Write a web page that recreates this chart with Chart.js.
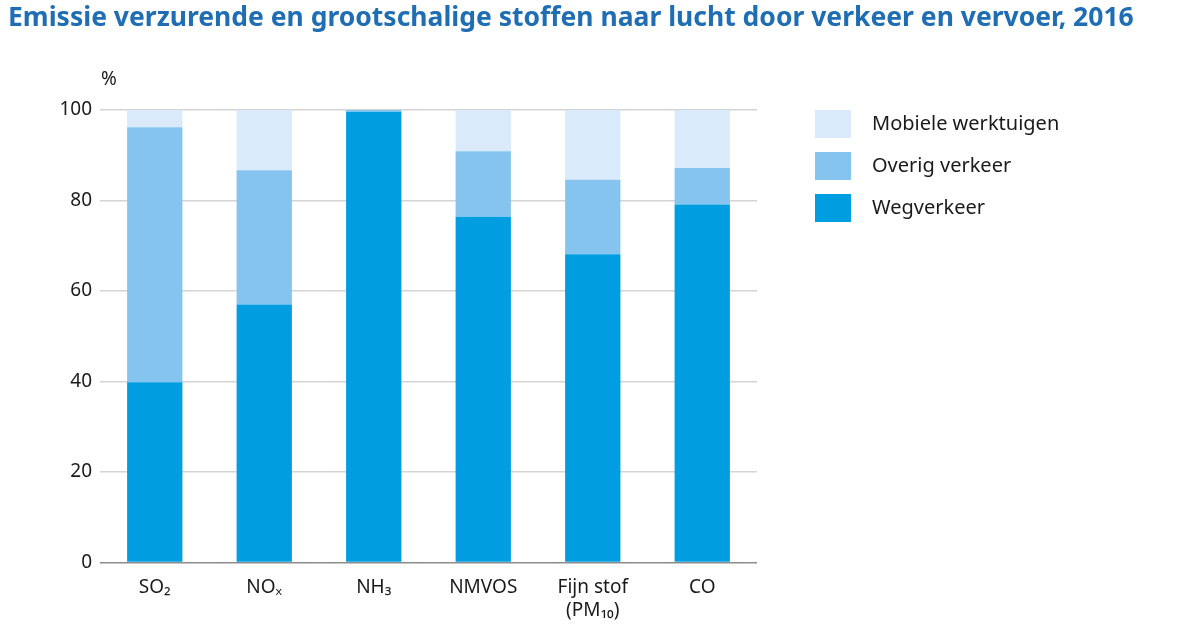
<!DOCTYPE html>
<html>
<head>
<meta charset="utf-8">
<script src="https://cdn.jsdelivr.net/npm/chart.js@4"></script>
<style>
  html, body { margin: 0; padding: 0; background: #fff; }
  #wrap { width: 1200px; height: 630px; }
</style>
</head>
<body>
<div id="wrap"><canvas id="emissieChart" width="1200" height="630"></canvas></div>
<script>
// Categorieën en waarden (procenten)
const stoffen = ["SO₂", "NOₓ", "NH₃", "NMVOS", ["Fijn stof", "(PM₁₀)"], "CO"];
const wegverkeer = [39.8, 57.0, 99.6, 76.4, 68.1, 79.1];
const overigVerkeer = [56.4, 29.7, 0.4, 14.5, 16.5, 8.1];
const mobieleWerktuigen = [3.8, 13.3, 0, 9.1, 15.4, 12.8];
const yTicks = [0, 20, 40, 60, 80, 100];

const titel = "Emissie verzurende en grootschalige stoffen naar lucht door verkeer en vervoer, 2016";
const fontFam = "'Noto Sans', 'Open Sans', sans-serif";

// Titel, legenda en "%" zelf tekenen (titel niet samengeperst door de smalle layout)
const extraTekst = {
    id: "extraTekst",
    afterDraw(chart) {
        const ctx = chart.ctx;
        const area = chart.chartArea;
        ctx.save();
        ctx.textBaseline = "middle";
        ctx.textAlign = "left";

        ctx.fillStyle = "#1f6db3";
        ctx.font = "bold 26.5px " + fontFam;
        ctx.fillText(titel, 8, 18);

        ctx.fillStyle = "#1a1a1a";
        ctx.font = "19px " + fontFam;
        ctx.fillText("%", area.left + 1, area.top - 30);

        ctx.font = "20px " + fontFam;
        const items = chart.data.datasets.slice().reverse();
        items.forEach((ds, i) => {
            const y = 124 + i * 42;
            ctx.fillStyle = ds.backgroundColor;
            ctx.fillRect(815, y - 14, 36, 28);
            ctx.fillStyle = "#1a1a1a";
            ctx.fillText(ds.label, 872, y);
        });
        ctx.restore();
    }
};

const ctx = document.getElementById("emissieChart").getContext("2d");
new Chart(ctx, {
    type: "bar",
    data: {
        labels: stoffen,
        datasets: [
            {
                label: "Wegverkeer",
                data: wegverkeer,
                backgroundColor: "#009ee0"
            },
            {
                label: "Overig verkeer",
                data: overigVerkeer,
                backgroundColor: "#86c4f0"
            },
            {
                label: "Mobiele werktuigen",
                data: mobieleWerktuigen,
                backgroundColor: "#d9eafa"
            }
        ]
    },
    options: {
        responsive: false,
        animation: false,
        layout: {
            padding: { left: 8, right: 443, top: 110, bottom: 2 }
        },
        datasets: {
            bar: {
                categoryPercentage: 1,
                barPercentage: 0.505,
                borderWidth: 0
            }
        },
        plugins: {
            legend: { display: false },
            tooltip: { enabled: false },
            title: { display: false }
        },
        scales: {
            x: {
                stacked: true,
                grid: { display: false },
                border: { display: false },
                ticks: {
                    color: "#1a1a1a",
                    font: { family: fontFam, size: 19 },
                    padding: 6,
                    maxRotation: 0
                }
            },
            y: {
                stacked: true,
                min: 0,
                max: 100,
                afterBuildTicks(axis) {
                    axis.ticks = yTicks.map(v => ({ value: v }));
                },
                afterFit(axis) {
                    axis.width = 92;
                },
                grid: {
                    color: ctx => ctx.tick && ctx.tick.value === 0 ? "#8c8c8c" : "#d4d4d4",
                    lineWidth: 1.5,
                    drawTicks: false
                },
                border: { display: false },
                ticks: {
                    color: "#1a1a1a",
                    font: { family: fontFam, size: 19 },
                    padding: 8
                }
            }
        }
    },
    plugins: [extraTekst]
});
</script>
</body>
</html>
